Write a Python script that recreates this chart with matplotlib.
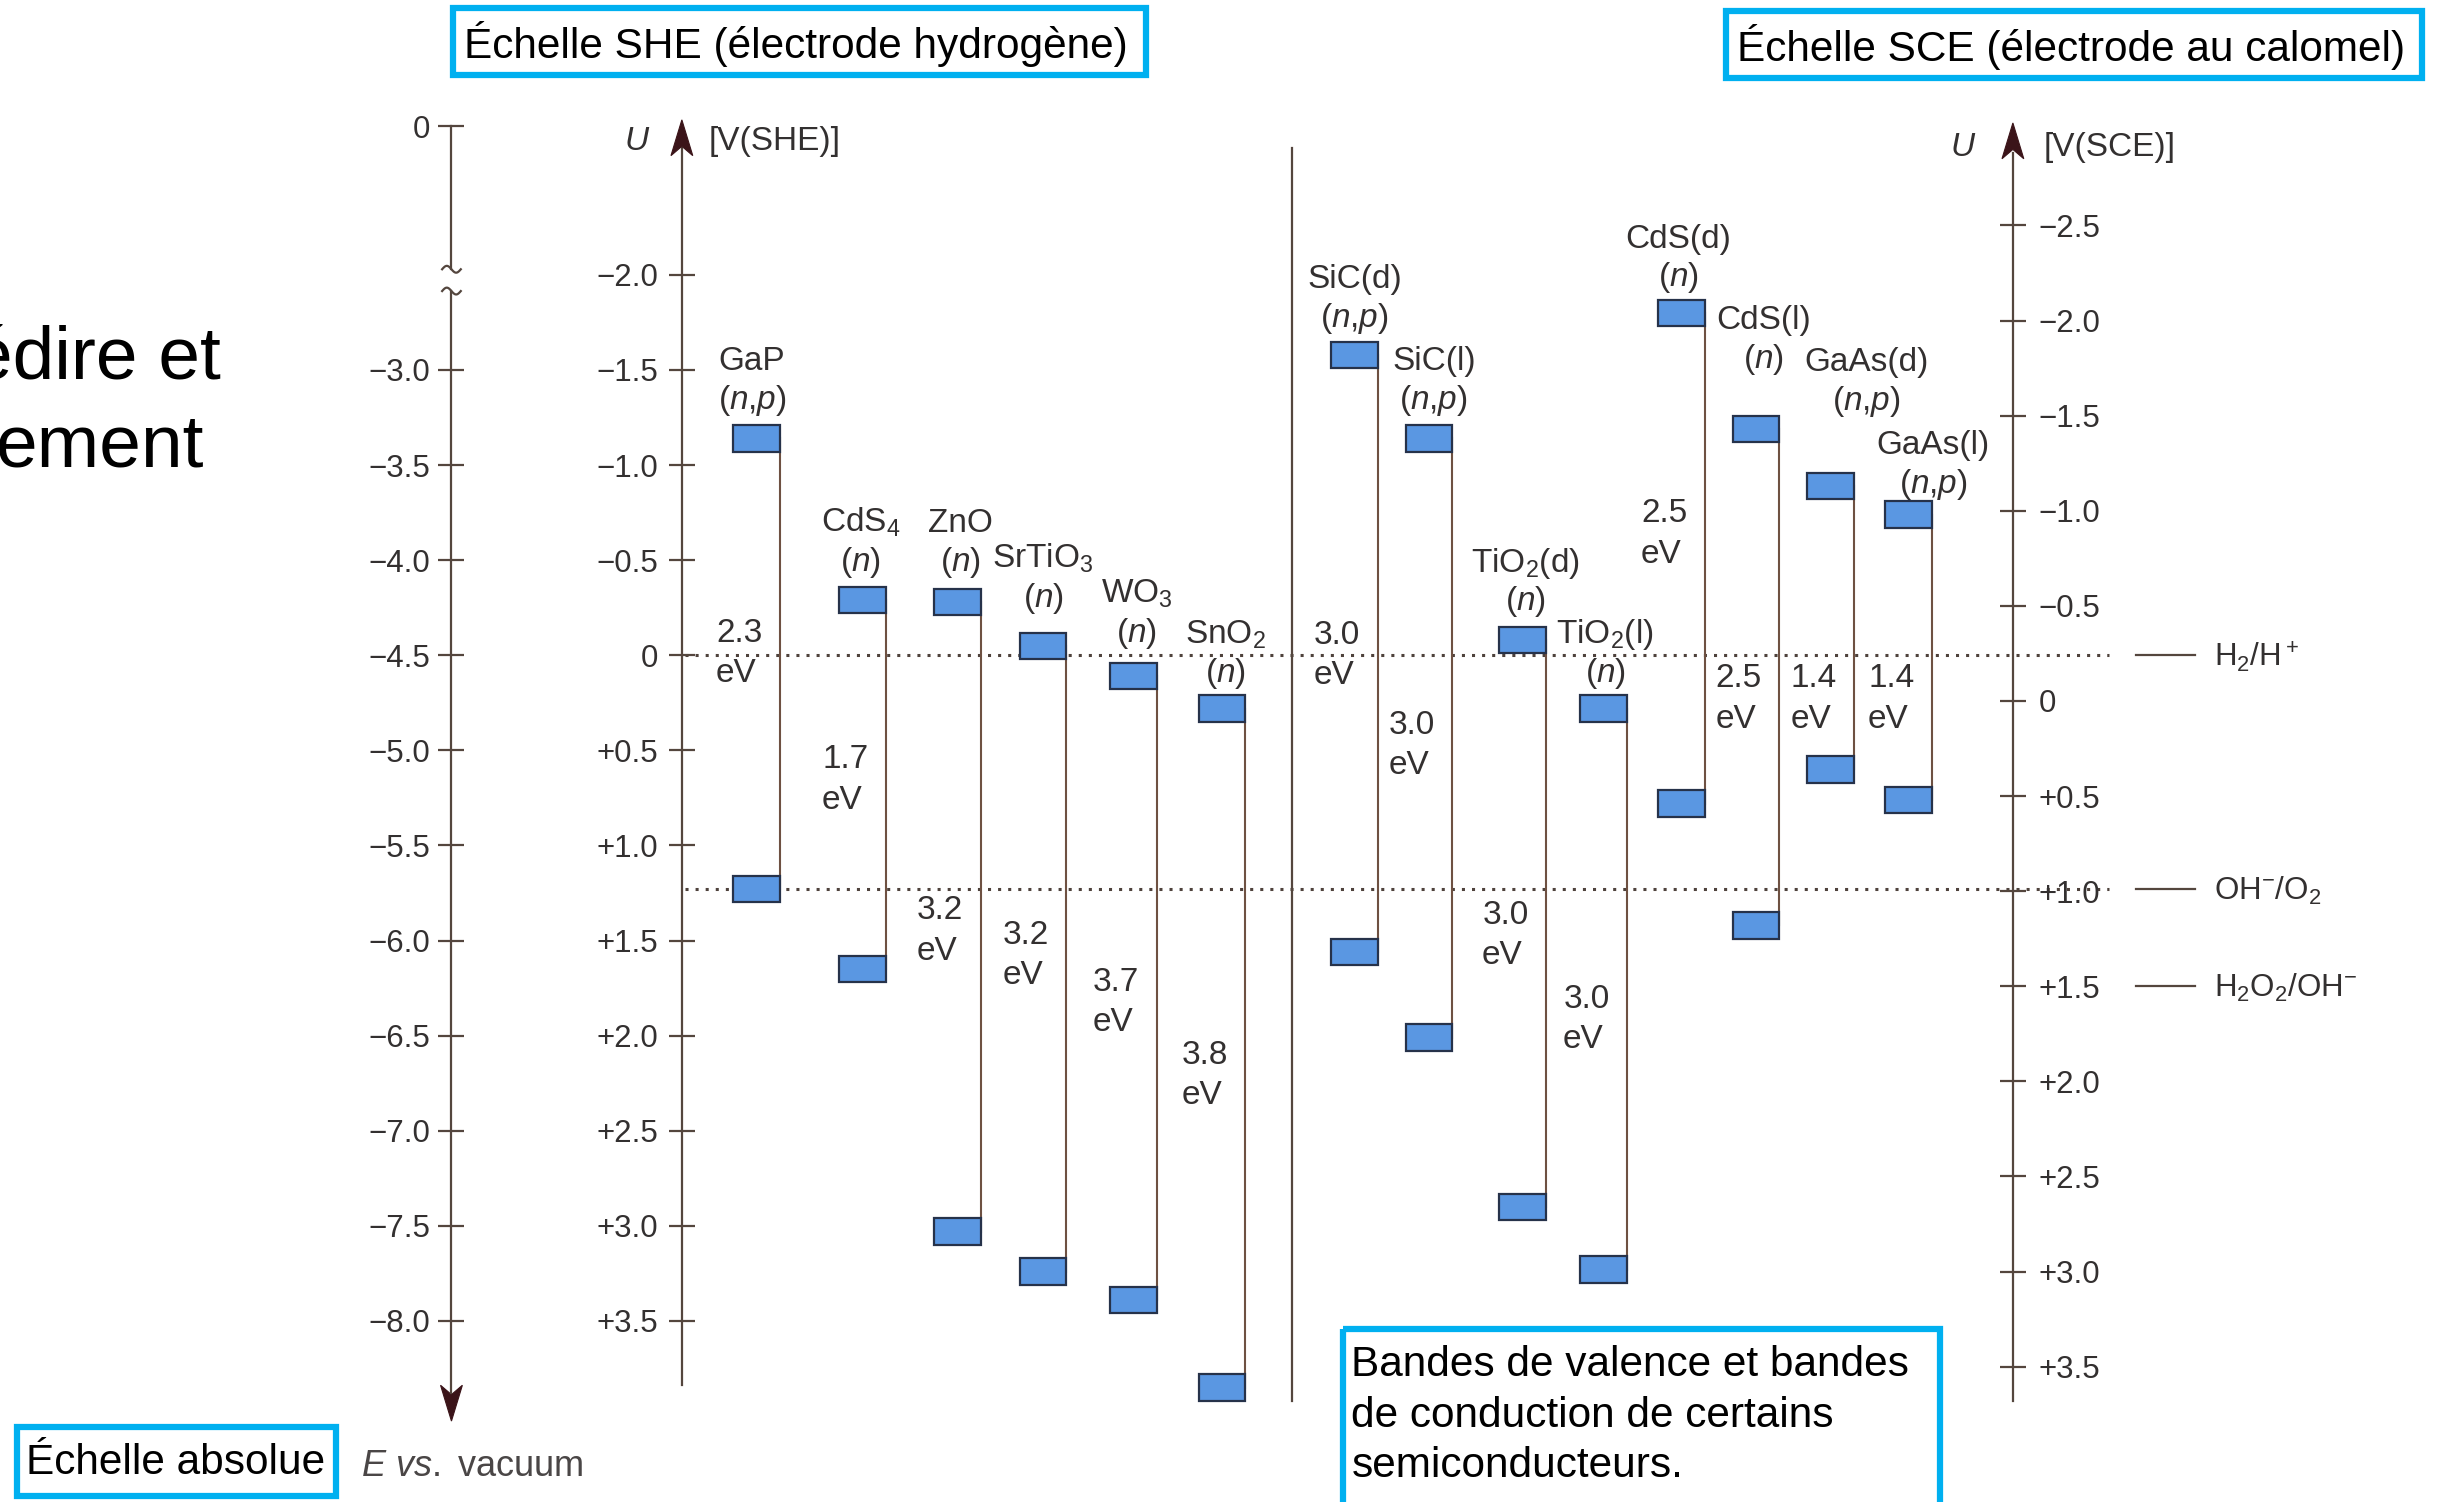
import math
import matplotlib.pyplot as plt
from matplotlib import font_manager
from matplotlib.patches import Rectangle, Polygon
from matplotlib.ticker import FixedLocator, FixedFormatter
from matplotlib.transforms import Affine2D

plt.rcParams['font.family'] = ['Liberation Sans', 'DejaVu Sans']
plt.rcParams['mathtext.fontset'] = 'custom'
plt.rcParams['mathtext.rm'] = 'Liberation Sans'
plt.rcParams['mathtext.it'] = 'Liberation Sans:italic'
plt.rcParams['mathtext.bf'] = 'Liberation Sans:bold'

# semiconductors given against the hydrogen electrode, V(SHE)
she_names = ['GaP', 'CdS$_4$', 'ZnO', 'SrTiO$_3$', 'WO$_3$', 'SnO$_2$']
she_types = ['($n$,$p$)', '($n$)', '($n$)', '($n$)', '($n$)', '($n$)']
she_cb = [-1.14, -0.29, -0.28, -0.05, 0.11, 0.28]
she_vb = [1.23, 1.65, 3.03, 3.24, 3.39, 3.85]
she_gaps = ['2.3', '1.7', '3.2', '3.2', '3.7', '3.8']

# semiconductors given against the calomel electrode, V(SCE)
sce_names = ['SiC(d)', 'SiC(l)', 'TiO$_2$(d)', 'TiO$_2$(l)',
             'CdS(d)', 'CdS(l)', 'GaAs(d)', 'GaAs(l)']
sce_types = ['($n$,$p$)', '($n$,$p$)', '($n$)', '($n$)',
             '($n$)', '($n$)', '($n$,$p$)', '($n$,$p$)']
sce_cb = [-1.82, -1.38, -0.32, 0.04, -2.04, -1.43, -1.13, -0.98]
sce_vb = [1.32, 1.77, 2.66, 2.99, 0.54, 1.18, 0.36, 0.52]
sce_gaps = ['3.0', '3.0', '3.0', '3.0', '2.5', '2.5', '1.4', '1.4']

# redox couples, V(SHE)
redox_names = ['H$_2$/H$^+$', 'OH$^{-}$/O$_2$', 'H$_2$O$_2$/OH$^{-}$']
redox_she = [0.0, 1.23, 1.74]
redox_dotted = [True, True, False]

# scale ticks
she_ticks = [-2.0, -1.5, -1.0, -0.5, 0.0, 0.5, 1.0, 1.5, 2.0, 2.5, 3.0, 3.5]
sce_ticks = [-2.5, -2.0, -1.5, -1.0, -0.5, 0.0, 0.5, 1.0, 1.5, 2.0, 2.5, 3.0, 3.5]
abs_ticks = [-3.0, -3.5, -4.0, -4.5, -5.0, -5.5, -6.0, -6.5, -7.0, -7.5, -8.0]

SCE_SHIFT = 0.24   # calomel electrode vs SHE
VAC_SHIFT = -4.5   # SHE zero on the vacuum scale

# ---- layout (grid of 1568 x 965 units over the figure) ----
W, H = 1568, 965
Y0, PX = 421, 122.2          # row of 0 V(SHE), units per volt
X_ABS, X_SHE, X_SCE, X_SEP = 290, 438, 1293, 830
BOX_W, BOX_H = 30, 17
she_x = [486, 554, 615, 670, 728, 785]
sce_x = [870, 918, 978, 1030, 1080, 1128, 1176, 1226]
she_lift = [26, 26, 27, 32, 29, 24]
sce_lift = [25, 26, 26, 24, 24, 46, 56, 21]
she_dx = [-3, -1, 2, 0, 2, 2]
sce_dx = [0, 3, 2, 1, -2, 5, 23, 16]
she_gap_rows = [407, 488, 585, 601, 631, 678]
sce_gap_rows = [408, 466, 588, 642, 330, 436, 436, 436]

TEXT_C = '#333030'
AXIS_C = '#54463e'
LINE_C = '#6e5142'
ARROW_C = '#3b1419'
BOX_FC = '#5a97e2'
BOX_EC = '#26324a'
FRAME_C = '#00b0f0'
FS = 24        # labels
FS_TICK = 22.5


def u(row):
    return (row - Y0) / PX


def row_of(volts):
    return Y0 + PX * volts


fig = plt.figure(figsize=(24.41, 15.02), dpi=100, facecolor='white')
lay = Affine2D().scale(1 / W, -1 / H).translate(0, 1) + fig.transFigure

ax = fig.add_axes([0, 0, 1, 1])
ax.set_xlim(0, W)
ax.set_ylim(u(H), u(0))
ax_abs = ax.twinx()
ax_abs.set_ylim(VAC_SHIFT - u(H), VAC_SHIFT - u(0))
ax_sce = ax.twinx()
ax_sce.set_ylim(u(H) - SCE_SHIFT, u(0) - SCE_SHIFT)


def fmt(v):
    if abs(v) < 1e-9:
        return '0'
    return f'{v:+.1f}'.replace('-', '\u2212')


def scale_axis(a, side, xpos, ticks, labels, lo, hi, pad):
    for s in a.spines.values():
        s.set_visible(False)
    sp = a.spines[side]
    sp.set_visible(True)
    sp.set_position(('data', xpos))
    sp.set_bounds(lo, hi)
    sp.set_color(AXIS_C)
    sp.set_linewidth(1.6)
    a.yaxis.set_ticks_position(side)
    a.yaxis.set_major_locator(FixedLocator(ticks))
    a.yaxis.set_major_formatter(FixedFormatter(labels))
    a.tick_params(axis='y', direction='inout', length=19, width=1.6,
                  color=AXIS_C, pad=pad, labelsize=FS_TICK, labelcolor=TEXT_C)
    a.set_xticks([])


scale_axis(ax, 'left', X_SHE, she_ticks, [fmt(v) for v in she_ticks],
           u(890), u(95), 7.5)
scale_axis(ax_sce, 'right', X_SCE, sce_ticks, [fmt(v) for v in sce_ticks],
           u(900) - SCE_SHIFT, u(98) - SCE_SHIFT, 9)
# vacuum scale: the 0 sits above a break in the axis
abs_top = VAC_SHIFT - u(81)
scale_axis(ax_abs, 'left', X_ABS, [abs_top] + abs_ticks,
           ['0'] + [fmt(v) for v in abs_ticks],
           VAC_SHIFT - u(187), VAC_SHIFT - u(895), 6)
ax.plot([X_ABS, X_ABS], [u(81), u(173)], color=AXIS_C, lw=1.6)
for r in (173, 187):
    xs = [X_ABS - 6 + i * 0.5 for i in range(25)]
    ys = [u(r + 2.2 * math.sin((x - X_ABS) / 6 * math.pi)) for x in xs]
    ax.plot(xs, ys, color=AXIS_C, lw=1.6)


def arrow_head(x, tip, direction):
    # direction -1: pointing up, +1: pointing down (in rows)
    base = tip - direction * 23
    notch = tip - direction * 17
    pts = [(x, u(tip)), (x - 7, u(base)), (x, u(notch)), (x + 7, u(base))]
    ax.add_patch(Polygon(pts, closed=True, fc=ARROW_C, ec=ARROW_C, lw=0.8, zorder=5))


arrow_head(X_SHE, 77, -1)
arrow_head(X_SCE, 79, -1)
arrow_head(X_ABS, 913, 1)

# separator between the two groups
ax.plot([X_SEP, X_SEP], [u(95), u(900)], color=AXIS_C, lw=1.6)

# redox levels
for name, v, dotted in zip(redox_names, redox_she, redox_dotted):
    if dotted:
        ax.plot([440, 1355], [v, v], color='#4e423c', lw=2.2,
                ls=(0, (1, 2.3)), zorder=1)
    ax.plot([1372, 1410], [v, v], color=AXIS_C, lw=1.6)
    ax.text(1422, row_of(v) + 7, name, transform=lay, fontsize=FS_TICK,
            color=TEXT_C, ha='left', va='baseline')


def draw_block(a, xs, cb, vb, names, types, lifts, dxs, gaps, gap_rows, shift):
    for i in range(len(xs)):
        x = xs[i]
        edge = x + BOX_W / 2
        a.plot([edge, edge], [cb[i], vb[i]], color=LINE_C, lw=1.5, zorder=2)
        for lvl in (cb[i], vb[i]):
            a.add_patch(Rectangle((x - BOX_W / 2, lvl - BOX_H / PX / 2),
                                  BOX_W, BOX_H / PX, fc=BOX_FC, ec=BOX_EC,
                                  lw=1.6, zorder=3))
        cb_row = row_of(cb[i] + shift)
        type_row = cb_row - lifts[i]
        ax.text(x + dxs[i], type_row + 7, types[i], transform=lay, fontsize=FS,
                color=TEXT_C, ha='center', va='baseline')
        ax.text(x + dxs[i], type_row - 26 + 8, names[i], transform=lay,
                fontsize=FS, color=TEXT_C, ha='center', va='baseline')
        gx = edge - 26
        ax.text(gx, gap_rows[i], gaps[i], transform=lay, fontsize=FS,
                color=TEXT_C, ha='center', va='center')
        ax.text(gx - 2, gap_rows[i] + 26, 'eV', transform=lay, fontsize=FS,
                color=TEXT_C, ha='center', va='center')


draw_block(ax, she_x, she_cb, she_vb, she_names, she_types, she_lift, she_dx,
           she_gaps, she_gap_rows, 0.0)
draw_block(ax_sce, sce_x, sce_cb, sce_vb, sce_names, sce_types, sce_lift, sce_dx,
           sce_gaps, sce_gap_rows, SCE_SHIFT)

# axis captions
ax.text(409, 91, '$U$', transform=lay, fontsize=FS, color=TEXT_C, ha='center', va='center')
ax.text(455, 91, '[V(SHE)]', transform=lay, fontsize=FS, color=TEXT_C, ha='left', va='center')
ax.text(1261, 95, '$U$', transform=lay, fontsize=FS, color=TEXT_C, ha='center', va='center')
ax.text(1313, 95, '[V(SCE)]', transform=lay, fontsize=FS, color=TEXT_C, ha='left', va='center')
ax.text(232, 942, '$E$ $vs.$ vacuum', transform=lay, fontsize=26, color='#4a4646',
        ha='left', va='center')

# framed notes
installed = {f.name for f in font_manager.fontManager.ttflist}
if 'Liberation Sans Narrow' in installed:
    NOTE_FONT, NOTE_FS = ['Liberation Sans Narrow', 'Liberation Sans'], 37
else:
    NOTE_FONT, NOTE_FS = ['Liberation Sans', 'DejaVu Sans'], 30.5

frames = [(291, 5, 445, 43), (1109, 7, 447, 43), (11, 917, 205, 44), (863, 854, 383, 130)]
for fx, fy, fw, fh in frames:
    fig.add_artist(Rectangle((fx, fy), fw, fh, transform=lay, fill=False,
                             ec=FRAME_C, lw=4.5, zorder=10))
notes = [(298, 28, 'Échelle SHE (électrode hydrogène)'),
         (1116, 30, 'Échelle SCE (électrode au calomel)'),
         (17, 940, 'Échelle absolue'),
         (868, 877, 'Bandes de valence et bandes'),
         (868, 910, 'de conduction de certains'),
         (868, 942, 'semiconducteurs.')]
for nx, ny, s in notes:
    fig.text(nx, ny, s, transform=lay, fontsize=NOTE_FS, family=NOTE_FONT,
             color='black', ha='left', va='center', zorder=11)

# slide text running off the left edge
fig.text(142, 243, 'édire et', transform=lay, fontsize=54, color='black',
         ha='right', va='baseline')
fig.text(131, 300, 'ement', transform=lay, fontsize=54, color='black',
         ha='right', va='baseline')

fig.savefig('out.png', dpi=100, facecolor='white')
